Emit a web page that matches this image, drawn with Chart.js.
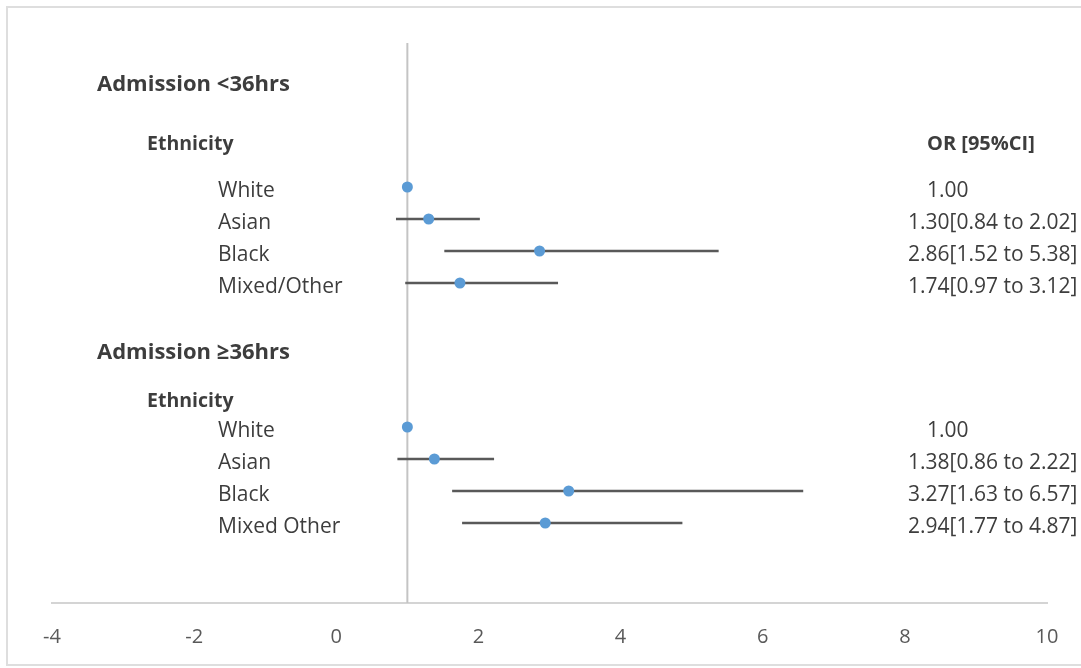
<!DOCTYPE html>
<html>
<head>
<meta charset="utf-8">
<script src="https://cdn.jsdelivr.net/npm/chart.js@4.4.1/dist/chart.umd.min.js"></script>
<style>
  html, body { margin: 0; padding: 0; background: #ffffff; }
  #frame { position: absolute; left: 6px; top: 6px; width: 1100px; height: 660px;
           border: 2px solid #dedede; box-sizing: border-box; }
  #forest { position: absolute; left: 0; top: 0; }
</style>
</head>
<body>
<div id="frame"></div>
<canvas id="forest" width="1081" height="668"></canvas>
<script>
// Odds ratios with 95% confidence intervals by ethnicity, split by admission time
const groupTitles = ['Admission <36hrs', 'Admission \u226536hrs'];
const subHeading = 'Ethnicity';
const estimateHeading = 'OR [95%CI]';

const ethnicityEarly = ['White', 'Asian', 'Black', 'Mixed/Other'];
const orEarly = [1.00, 1.30, 2.86, 1.74];
const lowerEarly = [null, 0.84, 1.52, 0.97];
const upperEarly = [null, 2.02, 5.38, 3.12];

const ethnicityLate = ['White', 'Asian', 'Black', 'Mixed Other'];
const orLate = [1.00, 1.38, 3.27, 2.94];
const lowerLate = [null, 0.86, 1.63, 1.77];
const upperLate = [null, 2.22, 6.57, 4.87];

const xTickValues = [-4, -2, 0, 2, 4, 6, 8, 10];
const noEffect = 1;

// ---- layout: vertical slots on the hidden y scale (1 slot = one row) ----
const Y_MIN = -0.5, Y_MAX = 17;
const firstRowEarly = 4, firstRowLate = 11.5;
const titleSlots = [0.72, 9.1];
const subHeadingSlots = [2.57, 10.6];

const FONT = "'Open Sans', 'Noto Sans', sans-serif";
const TEXT = '#3d3d3d';

function rowsFor(first, n) { return Array.from({ length: n }, (_, i) => first + i); }
const rowsEarly = rowsFor(firstRowEarly, orEarly.length);
const rowsLate = rowsFor(firstRowLate, orLate.length);

const groups = [
  { title: groupTitles[0], names: ethnicityEarly, or: orEarly, lo: lowerEarly, hi: upperEarly, rows: rowsEarly },
  { title: groupTitles[1], names: ethnicityLate, or: orLate, lo: lowerLate, hi: upperLate, rows: rowsLate }
];

const pointData = [];
const intervalData = [];
groups.forEach(g => {
  g.or.forEach((v, i) => {
    pointData.push({ x: v, y: g.rows[i] });
    if (g.lo[i] !== null) {
      intervalData.push({ x: g.lo[i], y: g.rows[i] });
      intervalData.push({ x: g.hi[i], y: g.rows[i] });
      intervalData.push({ x: null, y: null });
    }
  });
});

function estimateText(or, lo, hi) {
  if (lo === null) return or.toFixed(2);
  return or.toFixed(2) + '[' + lo.toFixed(2) + ' to ' + hi.toFixed(2) + ']';
}

// Text columns: group titles, row names and the OR [95%CI] column
const forestText = {
  id: 'forestText',
  afterDraw(chart) {
    const ctx = chart.ctx;
    const y = chart.scales.y;
    ctx.save();
    ctx.fillStyle = TEXT;
    ctx.textBaseline = 'middle';
    ctx.textAlign = 'left';
    groups.forEach((g, gi) => {
      ctx.font = 'bold 22px ' + FONT;
      ctx.fillText(g.title, 97, y.getPixelForValue(titleSlots[gi]) + 3);
      ctx.font = 'bold 19.5px ' + FONT;
      ctx.fillText(subHeading, 147, y.getPixelForValue(subHeadingSlots[gi]) + 3);
      ctx.font = '21px ' + FONT;
      g.names.forEach((name, i) => {
        const py = y.getPixelForValue(g.rows[i]) + 4;
        ctx.fillText(name, 218, py);
        const label = estimateText(g.or[i], g.lo[i], g.hi[i]);
        ctx.fillText(label, g.lo[i] === null ? 927 : 908, py);
      });
    });
    ctx.font = 'bold 20px ' + FONT;
    ctx.fillText(estimateHeading, 927, y.getPixelForValue(subHeadingSlots[0]) + 3);
    ctx.restore();
  }
};

new Chart(document.getElementById('forest'), {
  type: 'scatter',
  data: {
    datasets: [
      {
        label: 'OR',
        data: pointData,
        backgroundColor: '#5b9bd5',
        borderWidth: 0,
        pointRadius: 5.5,
        pointHoverRadius: 5.5
      },
      {
        label: '95% CI',
        data: intervalData,
        showLine: true,
        spanGaps: false,
        borderColor: '#595959',
        borderWidth: 2.5,
        pointRadius: 0
      },
      {
        label: 'No effect',
        data: [{ x: noEffect, y: Y_MIN }, { x: noEffect, y: Y_MAX }],
        showLine: true,
        borderColor: '#c4c4c4',
        borderWidth: 2,
        pointRadius: 0
      }
    ]
  },
  options: {
    responsive: false,
    animation: false,
    layout: { padding: { left: 52, right: 34, top: 43, bottom: 0 } },
    plugins: { legend: { display: false }, tooltip: { enabled: false } },
    scales: {
      x: {
        type: 'linear',
        min: xTickValues[0],
        max: xTickValues[xTickValues.length - 1],
        afterBuildTicks: s => { s.ticks = xTickValues.map(v => ({ value: v })); },
        afterFit: s => { s.height = 65; },
        grid: { display: false, drawTicks: false },
        border: { display: true, color: '#d4d4d4', width: 2 },
        ticks: { color: '#595959', font: { family: FONT, size: 20 }, padding: 22 }
      },
      y: {
        type: 'linear',
        display: false,
        reverse: true,
        min: Y_MIN,
        max: Y_MAX
      }
    }
  },
  plugins: [forestText]
});
</script>
</body>
</html>
